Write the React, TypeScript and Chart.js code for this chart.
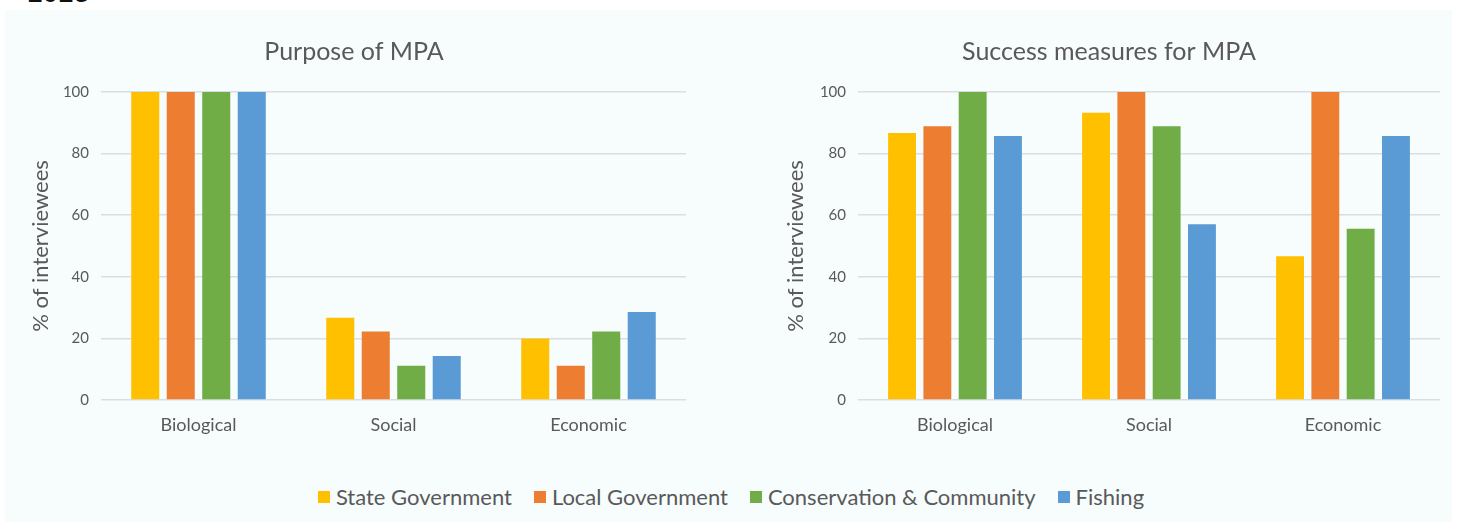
import React, { useEffect, useRef } from "react";
import { Chart, registerables } from "chart.js";

Chart.register(...registerables);

const categories = ["Biological", "Social", "Economic"];
const seriesNames = ["State Government", "Local Government", "Conservation & Community", "Fishing"];
const seriesColors = ["#FFC000", "#ED7D31", "#70AD47", "#5B9BD5"];

const purposeState = [100, 26.7, 20];
const purposeLocal = [100, 22.2, 11.1];
const purposeConservation = [100, 11.1, 22.2];
const purposeFishing = [100, 14.3, 28.6];

const successState = [86.7, 93.3, 46.7];
const successLocal = [88.9, 100, 100];
const successConservation = [100, 88.9, 55.6];
const successFishing = [85.7, 57.1, 85.7];

const yMin = 0;
const yMax = 100;
const yStep = 20;

const chartTitles = ["Purpose of MPA", "Success measures for MPA"];
const yAxisTitle = "% of interviewees";

const FONT = "Lato, 'Noto Sans', sans-serif";
const TEXT = "#595959";
const GRID = "#d9dee5";

type PanelProps = {
  title: string;
  series: number[][];
  left: number;
  plotLeft: number;
  pad: number;
};

function BarPanel({ title, series, left, plotLeft, pad }: PanelProps) {
  const ref = useRef<HTMLCanvasElement>(null);
  useEffect(() => {
    const chart = new Chart(ref.current as HTMLCanvasElement, {
      type: "bar",
      data: {
        labels: categories,
        datasets: seriesNames.map((name, i) => ({
          label: name,
          data: series[i],
          backgroundColor: seriesColors[i],
          borderWidth: 0,
          categoryPercentage: 0.728,
          barPercentage: 0.79,
        })),
      },
      options: {
        animation: false,
        responsive: false,
        maintainAspectRatio: false,
        layout: { padding: { left: pad, right: pad, top: 0, bottom: 0 } },
        plugins: {
          legend: { display: false },
          tooltip: { enabled: false },
          title: {
            display: true,
            text: title,
            color: TEXT,
            font: { family: FONT, size: 25, weight: "normal" },
            padding: { top: 27, bottom: 25 },
          },
        },
        scales: {
          x: {
            grid: { display: false, drawTicks: false },
            border: { display: false },
            ticks: { color: TEXT, font: { family: FONT, size: 18 }, padding: 14 },
            afterFit: (s: any) => {
              s.height = 50;
            },
          },
          y: {
            min: yMin,
            max: yMax,
            grid: { color: GRID, drawTicks: false, lineWidth: 1.5 },
            border: { display: false },
            ticks: { stepSize: yStep, color: TEXT, font: { family: FONT, size: 15 }, padding: 12 },
            title: {
              display: true,
              text: yAxisTitle,
              color: TEXT,
              font: { family: FONT, size: 22 },
              padding: { top: 22 - pad, bottom: 0 },
            },
            afterFit: (s: any) => {
              s.width = plotLeft - pad;
            },
          },
        },
      },
    } as any);
    return () => chart.destroy();
  }, []);
  return (
    <canvas
      ref={ref}
      width={696}
      height={440}
      style={{ position: "absolute", left, top: 10, width: 696, height: 440 }}
    />
  );
}

export default function App() {
  return (
    <div style={{ position: "absolute", left: 0, top: 0, width: 1462, height: 522, background: "#ffffff", overflow: "hidden" }}>
      <div
        style={{
          position: "absolute",
          left: 27,
          top: -18,
          fontFamily: "'Liberation Mono', monospace",
          fontWeight: "bold",
          fontSize: 26,
          lineHeight: "26px",
          color: "#111",
        }}
      >
        1023
      </div>
      <div style={{ position: "absolute", left: 5, top: 10, width: 1447, height: 512, background: "#f7fcfd" }} />
      <BarPanel
        title={chartTitles[0]}
        series={[purposeState, purposeLocal, purposeConservation, purposeFishing]}
        left={6}
        plotLeft={95}
        pad={16}
      />
      <BarPanel
        title={chartTitles[1]}
        series={[successState, successLocal, successConservation, successFishing]}
        left={761}
        plotLeft={97}
        pad={17}
      />
      <div
        style={{
          position: "absolute",
          left: 0,
          top: 483,
          width: 1462,
          display: "flex",
          justifyContent: "center",
          alignItems: "center",
          fontFamily: FONT,
          fontSize: 22,
          color: TEXT,
          lineHeight: "28px",
        }}
      >
        {seriesNames.map((name, i) => (
          <div key={name} style={{ display: "flex", alignItems: "center", marginRight: i < seriesNames.length - 1 ? 22 : 0 }}>
            <span style={{ display: "inline-block", width: 12, height: 12, background: seriesColors[i], marginRight: 6 }} />
            <span>{name}</span>
          </div>
        ))}
      </div>
    </div>
  );
}
